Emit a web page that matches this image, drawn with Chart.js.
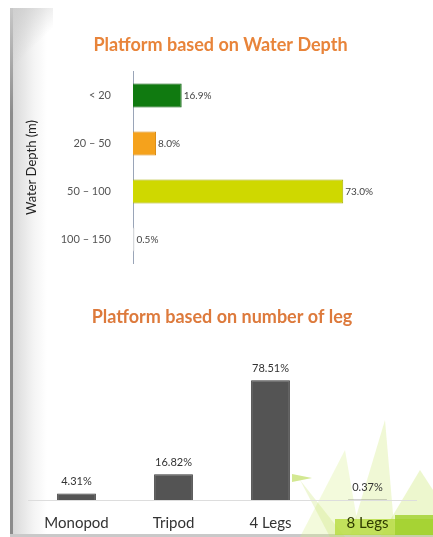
<!DOCTYPE html>
<html>
<head>
<meta charset="utf-8">
<script src="https://cdn.jsdelivr.net/npm/chart.js@4/dist/chart.umd.min.js"></script>
<style>
  html,body{margin:0;padding:0;background:#fff;}
  body{width:433px;height:537px;position:relative;overflow:hidden;font-family:Lato,"Open Sans",sans-serif;}
  .deco{position:absolute;}
  canvas{position:absolute;left:0;}
</style>
</head>
<body>
<div class="deco" style="left:13px;top:8px;width:34px;height:529px;background:linear-gradient(90deg,#d9d9d9,#f4f4f4 60%,rgba(255,255,255,0));"></div>
<div class="deco" style="left:10px;top:8px;width:3px;height:529px;background:linear-gradient(180deg,#c8c8c8,#8c8c8c 20%,#8c8c8c);"></div>
<div class="deco" style="left:13px;top:8px;width:40px;height:60px;background:linear-gradient(135deg,#cfcfcf,rgba(255,255,255,0) 60%);"></div>
<div class="deco" style="left:10px;top:534px;width:423px;height:3px;background:#c9c9c9;"></div>
<svg class="deco" style="left:0;top:0" width="433" height="537">
  <polygon points="300,537 345,450 360,537" fill="#d8ee8a" opacity="0.3"/>
  <polygon points="350,537 385,420 395,537" fill="#cde774" opacity="0.3"/>
  <polygon points="380,537 420,470 433,490 433,537" fill="#c5e35e" opacity="0.3"/>
  <polygon points="330,537 300,480 345,537" fill="#bfe05a" opacity="0.25"/>
  <polygon points="292,474 312,478 292,482" fill="#b6d84a" opacity="0.6"/>
  <rect x="335" y="519" width="98" height="16" fill="#b9dc45" opacity="0.85"/>
  <rect x="395" y="515" width="38" height="20" fill="#9fd02a" opacity="0.8"/>
</svg>
<canvas id="c2" width="433" height="237" style="top:300px;width:433px;height:237px"></canvas>
<canvas id="c1" width="433" height="284" style="top:8px;width:433px;height:284px"></canvas>
<script>
const depthCategories = ["< 20", "20 \u2013 50", "50 \u2013 100", "100 \u2013 150"];
const depthValues = [16.9, 8.0, 73.0, 0.5];
const depthColors = ["#107a10", "#f5a21c", "#cfd800", "#e8e8e8"];
const depthBorders = ["#0b5e0b", "#d98a10", "#a9b000", "#cccccc"];

const legCategories = ["Monopod", "Tripod", "4 Legs", "8 Legs"];
const legValues = [4.31, 16.82, 78.51, 0.37];

const valueLabels = {
  id: 'valueLabels',
  afterDatasetsDraw(chart, args, opts) {
    const ctx = chart.ctx;
    const meta = chart.getDatasetMeta(0);
    const vals = chart.data.datasets[0].data;
    ctx.save();
    ctx.font = opts.font;
    ctx.fillStyle = opts.color;
    meta.data.forEach((el, i) => {
      const txt = vals[i].toFixed(opts.decimals) + '%';
      if (opts.horizontal) {
        ctx.textAlign = 'left'; ctx.textBaseline = 'middle';
        ctx.fillText(txt, el.x + 2, el.y);
      } else {
        ctx.textAlign = 'center'; ctx.textBaseline = 'middle';
        ctx.fillText(txt, el.x, el.y - 12);
      }
    });
    ctx.restore();
  }
};

new Chart(document.getElementById('c1'), {
  type: 'bar',
  data: {
    labels: depthCategories,
    datasets: [{
      data: depthValues,
      backgroundColor: depthColors,
      borderColor: depthBorders,
      borderWidth: 1,
      barPercentage: 0.5,
      categoryPercentage: 1
    }]
  },
  options: {
    indexAxis: 'y',
    responsive: false,
    maintainAspectRatio: false,
    animation: false,
    layout: { padding: { left: 20, right: 12, top: 0, bottom: 0 } },
    plugins: {
      legend: { display: false },
      tooltip: { enabled: false },
      title: {
        display: true,
        text: 'Platform based on Water Depth',
        color: '#e8843a',
        font: { family: 'Lato', size: 18, weight: 'bold' },
        padding: { top: 26, bottom: 16 }
      },
      valueLabels: { font: '10px Lato', color: '#444', decimals: 1, horizontal: true }
    },
    scales: {
      x: { display: false, min: 0, max: 100 },
      y: {
        afterFit(s) { s.width = 113; },
        grid: { display: false, drawTicks: false },
        border: { display: true, color: '#9aa5b8', width: 1 },
        ticks: { color: '#555', font: { family: 'Lato', size: 11 }, padding: 22 },
        title: {
          display: true,
          text: 'Water Depth (m)',
          color: '#222',
          font: { family: 'Lato', size: 13 },
          padding: { top: 4, bottom: 4 }
        }
      }
    }
  },
  plugins: [valueLabels]
});

new Chart(document.getElementById('c2'), {
  type: 'bar',
  data: {
    labels: legCategories,
    datasets: [{
      data: legValues,
      backgroundColor: '#545454',
      borderColor: '#383838',
      borderWidth: 1,
      barPercentage: 0.4,
      categoryPercentage: 1
    }]
  },
  options: {
    responsive: false,
    maintainAspectRatio: false,
    animation: false,
    layout: { padding: { left: 28, right: 17, top: 0, bottom: 0 } },
    plugins: {
      legend: { display: false },
      tooltip: { enabled: false },
      title: {
        display: true,
        text: 'Platform based on number of leg',
        color: '#dd7a3c',
        font: { family: 'Lato', size: 18, weight: 'bold' },
        padding: { top: 6, bottom: 35 }
      },
      valueLabels: { font: '11px Lato', color: '#333', decimals: 2, horizontal: false }
    },
    scales: {
      y: { display: false, min: 0, max: 90 },
      x: {
        afterFit(s) { s.height = 37; },
        grid: { display: false, drawTicks: false },
        border: { display: true, color: '#dddddd', width: 1 },
        ticks: {
          color: ['#333', '#333', '#333', '#2f3a00'],
          font: { family: 'Lato', size: 15 },
          padding: 14
        }
      }
    }
  },
  plugins: [valueLabels]
});
</script>
</body>
</html>
